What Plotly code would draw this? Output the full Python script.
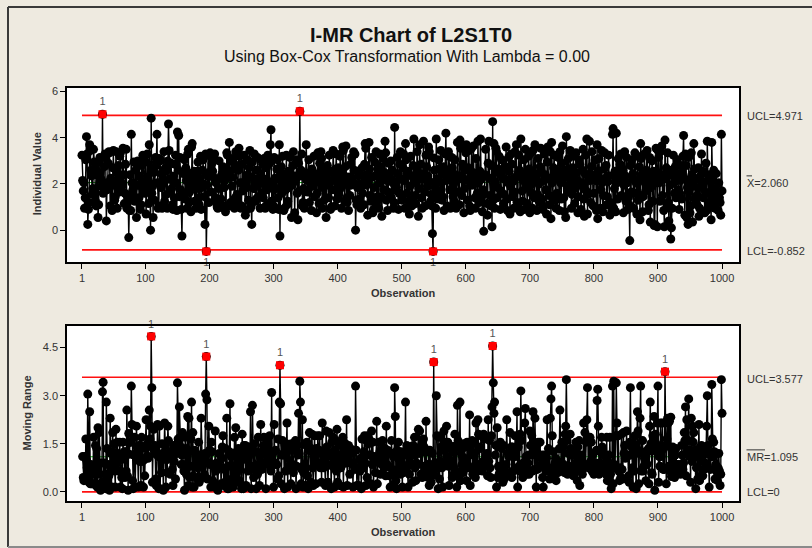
import plotly.graph_objects as go

# ---------------- data (values read/estimated from the chart) ----------------
obs_001_200 = [
 3.25, 2.15, 1.70, 2.05, 0.95, 1.40, 3.05, 4.05, 3.30, 0.25, 0.90, 1.20, 3.70, 3.45, 2.60, 2.35, 1.55, 1.80, 3.50, 2.95,
 2.70, 1.25, 1.05, 2.40, 2.55, 0.55, 1.10, 2.95, 3.15, 3.10, 2.20, 1.90, 5.02, 1.60, 1.85, 2.75, 3.30, 3.20, 0.40, 1.75,
 2.05, 2.90, 3.40, 3.35, 1.05, 2.25, 2.10, 0.85, 2.70, 3.45, 1.95, 1.30, 1.45, 3.40, 2.50, 0.95, 2.15, 2.80, 1.65, 3.20,
 3.35, 2.35, 1.90, 2.00, 3.55, 2.40, 1.15, 1.60, 2.85, 3.50, 0.95, 1.45, 1.50, -0.32, 0.85, 2.40, 0.85, 4.15, 2.05, 1.70,
 1.80, 2.95, 1.25, 1.40, 2.60, 0.55, 1.95, 3.00, 2.85, 1.40, 2.35, 0.90, 1.10, 2.80, 1.85, 3.25, 3.10, 2.10, 1.60, 2.95,
 0.70, 1.80, 3.30, 2.25, 1.15, 3.70, 2.05, 0.00, 4.85, 1.60, 1.90, 0.55, 2.50, 1.30, 2.75, 3.15, 2.95, 4.15, 2.05, 0.95,
 1.05, 3.10, 3.00, 1.85, 2.45, 0.95, 2.15, 2.20, 3.40, 1.25, 2.70, 2.55, 1.55, 0.95, 3.00, 4.60, 3.45, 2.20, 1.65, 2.90,
 1.80, 1.10, 0.90, 2.35, 1.40, 2.85, 3.25, 2.05, 0.85, 4.25, 2.60, 4.10, 1.45, 3.15, 1.75, 0.90, -0.25, 1.60, 2.45, 3.10,
 3.05, 1.35, 2.70, 2.15, 0.95, 3.30, 3.50, 1.20, 1.65, 2.45, 0.80, 3.60, 3.75, 1.90, 2.40, 2.55, 1.25, 2.10, 0.95, 1.80,
 2.55, 2.95, 1.40, 1.10, 2.25, 3.20, 0.90, 1.85, 2.60, 3.05, 2.00, 1.45, 0.25, 3.30, -0.92, 1.95, 2.35, 3.25, 1.20, 2.50,
]
obs_201_400 = [
 3.35, 3.20, 1.65, 2.90, 2.55, 2.30, 3.15, 3.30, 1.40, 2.05, 1.15, 1.00, 0.95, 1.80, 3.00, 2.25, 1.10, 1.35, 2.40, 1.00,
 2.75, 2.55, 1.85, 2.15, 0.80, 1.05, 3.35, 3.25, 2.45, 2.55, 3.80, 1.05, 1.20, 2.30, 1.90, 3.10, 2.95, 2.65, 0.95, 1.40,
 3.40, 2.80, 1.55, 1.25, 2.60, 3.55, 3.20, 2.05, 0.95, 1.05, 2.85, 1.70, 1.80, 3.25, 2.10, 0.65, 0.85, 1.85, 3.05, 2.40,
 1.30, 2.70, 3.45, 0.95, 1.05, 0.25, 2.95, 2.25, 1.80, 3.30, 2.05, 1.25, 1.35, 2.60, 3.15, 1.45, 2.25, 2.05, 0.95, 3.05,
 2.30, 1.60, 2.85, 1.40, 3.10, 2.20, 0.95, 1.05, 2.70, 1.75, 3.25, 2.00, 1.15, 2.90, 3.70, 4.35, 1.25, 2.10, 0.90, 1.05,
 3.15, 2.25, 0.95, 1.80, 2.65, 3.05, 1.40, 0.90, 3.70, -0.25, 2.50, 2.75, 1.60, 3.20, 2.05, 0.85, 0.95, 2.40, 1.75, 3.25,
 1.10, 1.25, 2.55, 1.85, 3.15, 2.30, 2.05, 0.55, 1.95, 2.80, 3.40, 2.10, 0.75, 2.35, 2.25, 3.05, 1.60, 0.45, 2.90, 1.70,
 5.15, 2.35, 2.60, 3.30, 1.05, 1.20, 1.80, 0.95, 2.45, 2.25, 3.70, 2.15, 1.65, 1.75, 3.05, 1.20, 2.50, 2.20, 0.85, 2.65,
 1.90, 2.10, 3.20, 1.45, 2.35, 2.10, 0.75, 1.60, 3.35, 2.45, 1.15, 2.90, 2.15, 3.40, 3.10, 0.95, 1.85, 2.60, 1.30, 2.25,
 2.45, 0.55, 1.95, 2.80, 2.50, 1.40, 3.25, 2.05, 0.90, 1.00, 2.55, 1.75, 3.45, 2.20, 2.35, 1.05, 2.65, 3.30, 1.35, 1.65,
]
obs_401_600 = [
 2.70, 1.55, 1.75, 3.20, 2.45, 0.95, 1.90, 3.60, 3.45, 2.15, 1.25, 2.75, 3.65, 1.40, 1.20, 2.30, 0.85, 2.05, 1.50, 2.85,
 1.95, 3.15, 2.25, 2.10, 3.40, 2.60, 3.30, 0.00, 1.30, 1.10, 1.85, 2.55, 2.35, 1.35, 2.00, 0.95, 1.05, 2.70, 1.60, 2.35,
 1.10, 2.85, 3.75, 3.55, 1.95, 2.40, 0.65, 2.15, 3.80, 2.65, 1.50, 1.25, 3.15, 2.30, 0.75, 0.90, 1.85, 2.95, 2.35, 3.40,
 1.20, 1.45, 2.50, 0.95, 2.05, 3.30, 2.75, 1.45, 0.60, 2.20, 3.10, 1.75, 2.50, 3.85, 3.35, 1.30, 2.15, 0.85, 1.65, 2.90,
 2.40, 2.25, 3.00, 1.40, 2.60, 2.05, 0.95, 1.20, 4.45, 2.10, 1.75, 1.85, 3.15, 2.45, 0.90, 1.60, 2.85, 3.40, 2.20, 1.30,
 1.45, 2.70, 3.30, 2.15, 0.95, 3.75, 3.05, 1.60, 2.40, 2.55, 1.25, 0.70, 1.90, 3.20, 2.35, 1.05, 1.35, 2.80, 3.95, 2.25,
 1.50, 1.15, 2.05, 3.40, 2.55, 0.60, 1.80, 3.70, 2.30, 2.85, 1.40, 0.95, 2.20, 3.85, 2.45, 1.65, 1.05, 3.25, 2.75, 1.90,
 2.35, 3.60, 3.40, 2.10, 1.25, 1.55, 1.05, -0.15, -0.92, 3.13, 2.60, 1.85, 0.95, 3.95, 2.20, 1.45, 1.35, 3.05, 2.65, 1.70,
 3.45, 2.05, 1.30, 1.45, 2.75, 0.85, 2.40, 3.30, 4.20, 2.15, 1.05, 2.60, 3.40, 3.20, 1.75, 0.95, 2.30, 3.15, 2.70, 1.45,
 2.00, 1.25, 3.05, 2.40, 0.95, 1.10, 3.80, 2.20, 1.65, 1.10, 3.90, 3.55, 2.35, 1.50, 2.85, 2.25, 0.75, 1.80, 2.60, 3.35,
]
obs_601_800 = [
 3.70, 2.15, 1.30, 2.70, 3.45, 1.05, 0.85, 2.30, 3.55, 1.95, 2.50, 3.65, 2.10, 1.40, 0.95, 3.10, 2.25, 1.60, 3.85, 2.05,
 1.20, 2.55, 3.95, 2.20, 1.45, 0.80, 1.75, -0.05, 1.60, 2.40, 3.50, 2.35, 1.15, 0.65, 2.90, 3.85, 2.25, 1.50, 1.05, 2.80,
 0.15, 4.70, 1.30, 3.75, 0.95, 2.10, 3.55, 3.40, 1.40, 1.85, 2.65, 3.20, 2.45, 0.90, 1.70, 3.05, 2.30, 2.60, 1.15, 1.55,
 2.20, 2.75, 3.60, 1.35, 0.85, 2.05, 3.15, 2.55, 0.70, 1.90, 3.30, 2.85, 1.45, 2.10, 0.95, 1.65, 3.40, 2.30, 3.70, 1.20,
 1.05, 2.45, 3.25, 2.60, 0.80, 3.95, 2.35, 1.70, 1.25, 2.15, 3.05, 0.90, 3.50, 2.40, 1.85, 1.15, 2.05, 3.20, 2.65, 0.75,
 2.20, 3.35, 1.60, 0.95, 3.45, 2.10, 1.40, 3.70, 2.45, 2.30, 0.85, 1.55, 3.10, 2.00, 1.20, 2.75, 3.55, 2.50, 1.35, 0.90,
 1.05, 2.15, 3.30, 2.40, 1.75, 0.70, 2.95, 3.60, 2.25, 1.50, 1.10, 3.40, 0.50, 3.80, 2.05, 1.45, 2.70, 3.25, 2.35, 1.30,
 0.95, 1.60, 2.55, 3.15, 2.20, 0.85, 3.40, 2.05, 1.35, 2.90, 3.65, 2.25, 1.40, 0.80, 2.60, 0.55, 4.05, 2.45, 1.90, 3.10,
 2.30, 1.65, 3.45, 2.10, 0.95, 1.55, 2.70, 3.20, 2.40, 1.15, 1.80, 3.35, 2.50, 2.15, 0.75, 1.45, 3.05, 2.85, 1.95, 0.90,
 2.05, 2.60, 3.50, 1.35, 0.60, 2.45, 3.25, 1.70, 3.95, 0.70, 1.55, 2.30, 3.85, 2.15, 1.20, 2.75, 3.40, 2.25, 1.05, 1.60,
]
obs_801_1000 = [
 2.40, 3.05, 2.15, 0.85, 3.70, 0.50, 2.55, 3.10, 2.20, 0.95, 1.75, 3.45, 2.05, 0.80, 1.50, 2.65, 3.35, 2.25, 2.80, 1.10,
 1.45, 2.10, 3.25, 2.35, 0.65, 1.20, 1.10, 0.85, 4.15, 4.40, 0.95, 1.80, 2.55, 0.80, 4.20, 2.05, 1.35, 3.10, 2.45, 2.10,
 2.85, 3.30, 1.50, 2.20, 2.60, 0.75, 1.95, 3.40, 2.35, 1.25, 3.15, 2.05, 0.90, 1.40, 1.10, -0.45, 2.80, 1.65, 3.05, 2.30,
 2.45, 0.95, 1.60, 3.35, 2.15, 2.05, 0.70, 3.20, 1.30, 1.55, 2.75, 0.45, 3.75, 3.10, 2.40, 0.80, 1.45, 2.25, 3.30, 2.05,
 1.70, 2.60, 3.45, 2.20, 0.85, 1.10, 3.15, 0.35, 1.85, 2.45, 3.00, 1.25, 2.55, 0.20, 0.25, 2.05, 3.55, 2.30, 0.15, 3.45,
 3.15, 2.05, 1.25, 3.40, 2.30, 3.65, 1.50, 2.20, 0.85, 0.15, 3.90, 2.45, 2.70, 1.05, 3.35, 1.20, 0.40, 2.60, 1.95, -0.38,
 0.10, 0.95, 2.35, 3.25, 2.05, 1.60, 2.75, 1.40, 2.20, 3.05, 2.45, 1.75, 0.90, 1.60, 2.15, 2.80, 1.35, 2.50, 3.20, 4.10,
 2.25, 0.65, 3.30, 2.80, 0.55, 1.85, 0.25, 3.15, 2.05, 0.75, 1.05, 3.35, 2.40, 0.35, 1.90, 3.75, 2.65, 1.35, 1.45, 2.20,
 1.10, 1.50, 2.70, 0.60, 0.95, 2.35, 1.85, 3.30, 2.05, 2.55, 1.40, 2.10, 0.75, 1.65, 2.90, 0.85, 3.85, 2.40, 1.20, 1.05,
 2.25, 1.55, 0.45, 3.80, 2.15, 1.05, 2.60, 1.35, 0.95, 1.80, 2.45, 1.25, 1.60, 0.85, 2.05, 1.40, 1.20, 0.65, 4.15, 1.70,
]

values = obs_001_200 + obs_201_400 + obs_401_600 + obs_601_800 + obs_801_1000
observations = list(range(1, len(values) + 1))

# control limits printed on the chart
I_UCL, I_CL, I_LCL = 4.971, 2.060, -0.852
MR_UCL, MR_CL, MR_LCL = 3.577, 1.095, 0.0
x_ticks = [1, 100, 200, 300, 400, 500, 600, 700, 800, 900, 1000]
title_text = "I-MR Chart of L2S1T0"
subtitle_text = "Using Box-Cox Transformation With Lambda = 0.00"

# moving ranges (definition of the MR chart)
mr_x = observations[1:]
mr_vals = [abs(values[i] - values[i - 1]) for i in range(1, len(values))]

# ---------------- layout helpers ----------------
W, H = 812, 548
def px(x):
    return x / W
def py(y):
    return 1 - y / H

FONT = "Liberation Sans, Arial, sans-serif"
BG = "#EEEAE0"
TXT = "#333333"

fig = go.Figure()
first, last = observations[0], observations[-1]

def add_chart(xa, ya, xs, ys, ucl, cl, lcl):
    fig.add_trace(go.Scatter(x=[first, last], y=[cl, cl], mode="lines",
                             line=dict(color="#00B000", width=1),
                             xaxis=xa, yaxis=ya, hoverinfo="skip", showlegend=False))
    for v in (ucl, lcl):
        fig.add_trace(go.Scatter(x=[first, last], y=[v, v], mode="lines",
                                 line=dict(color="#FF1010", width=1.6),
                                 xaxis=xa, yaxis=ya, hoverinfo="skip", showlegend=False))
    fig.add_trace(go.Scatter(x=xs, y=ys, mode="lines+markers",
                             line=dict(color="black", width=1.4),
                             marker=dict(color="black", size=9),
                             xaxis=xa, yaxis=ya, showlegend=False))
    hx = [x for x, y in zip(xs, ys) if y > ucl]
    hy = [y for y in ys if y > ucl]
    lx = [x for x, y in zip(xs, ys) if y < lcl]
    ly = [y for y in ys if y < lcl]
    for X, Y, pos in ((hx, hy, "top center"), (lx, ly, "bottom center")):
        if X:
            fig.add_trace(go.Scatter(x=X, y=Y, mode="markers+text", text=["1"] * len(X),
                                     textposition=pos, cliponaxis=False,
                                     textfont=dict(family=FONT, size=11, color="#555555"),
                                     marker=dict(color="#FF0000", size=8, symbol="square"),
                                     xaxis=xa, yaxis=ya, showlegend=False))

add_chart("x", "y", observations, values, I_UCL, I_CL, I_LCL)
add_chart("x2", "y2", mr_x, mr_vals, MR_UCL, MR_CL, MR_LCL)

xr = [-22.4, 1026.5]
axis_common = dict(showline=True, mirror=True, linecolor="black", linewidth=1.6,
                   ticks="outside", ticklen=5, tickwidth=1.3, tickcolor="black",
                   showgrid=False, zeroline=False,
                   tickfont=dict(family=FONT, size=11, color=TXT))

fig.update_layout(
    width=W, height=H,
    margin=dict(l=0, r=0, t=0, b=0),
    paper_bgcolor=BG, plot_bgcolor="white",
    showlegend=False,
    xaxis=dict(domain=[px(67), px(739)], range=xr, anchor="y",
               tickvals=x_ticks, ticktext=[str(t) for t in x_ticks], **axis_common),
    yaxis=dict(domain=[py(261), py(86)], range=[-1.38, 6.17], anchor="x",
               tickvals=[0, 2, 4, 6], **axis_common),
    xaxis2=dict(domain=[px(67), px(739)], range=xr, anchor="y2",
                tickvals=x_ticks, ticktext=[str(t) for t in x_ticks], **axis_common),
    yaxis2=dict(domain=[py(501), py(325)], range=[-0.29, 5.18], anchor="x2",
                tickvals=[0, 1.5, 3.0, 4.5], tickformat=".1f", **axis_common),
)

ann = []
def A(text, x, y, size=12, bold=False, xanchor="center", angle=0, color=TXT):
    ann.append(dict(text=("<b>%s</b>" % text) if bold else text, x=px(x), y=py(y),
                    xref="paper", yref="paper", showarrow=False, xanchor=xanchor,
                    yanchor="middle", textangle=angle,
                    font=dict(family=FONT, size=size, color=color)))

A(title_text, 411, 33, size=20, bold=True, color="#111111")
A(subtitle_text, 407, 55, size=16, color="#111111")
A("Individual Value", 37, 173, size=11, bold=True, angle=-90)
A("Moving Range", 27, 413, size=11, bold=True, angle=-90)
A("Observation", 403, 292, size=11, bold=True)
A("Observation", 403, 532, size=11, bold=True)
A("UCL=%.3f" % I_UCL, 745, 114, size=11, xanchor="left")
A("X=%.3f" % I_CL, 745, 182, size=11, xanchor="left")
A("LCL=%.3f" % I_LCL, 745, 250, size=11, xanchor="left")
A("UCL=%.3f" % MR_UCL, 745, 378, size=11, xanchor="left")
A("MR=%.3f" % MR_CL, 745, 457, size=11, xanchor="left")
A("LCL=%g" % MR_LCL, 745, 492, size=11, xanchor="left")

shapes = [
    dict(type="line", xref="paper", yref="paper", x0=px(8), x1=px(8), y0=py(547), y1=py(5),
         line=dict(color="#3A3A3A", width=2)),
    dict(type="line", xref="paper", yref="paper", x0=px(8), x1=px(812), y0=py(5), y1=py(5),
         line=dict(color="#3A3A3A", width=2)),
    dict(type="line", xref="paper", yref="paper", x0=px(8), x1=px(812), y0=py(547), y1=py(547),
         line=dict(color="#8A8A8A", width=2)),
    dict(type="line", xref="paper", yref="paper", x0=px(746.5), x1=px(752), y0=py(174.5), y1=py(174.5),
         line=dict(color=TXT, width=1)),
    dict(type="line", xref="paper", yref="paper", x0=px(746.5), x1=px(765), y0=py(449.5), y1=py(449.5),
         line=dict(color=TXT, width=1)),
]
fig.update_layout(annotations=ann, shapes=shapes)

fig.write_html("out.html")
